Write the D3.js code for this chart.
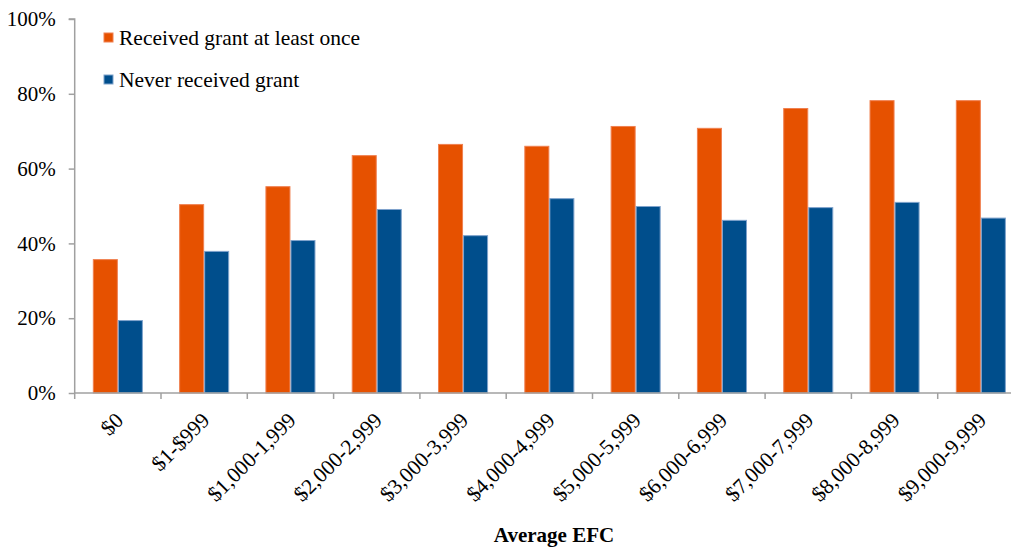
<!DOCTYPE html>
<html><head><meta charset="utf-8">
<script src="https://cdn.jsdelivr.net/npm/d3@7"></script>
<style>body{margin:0;background:#fff;} svg text{font-family:"Liberation Serif","Times New Roman","DejaVu Serif",serif !important;}</style>
</head><body>
<svg id="chart" width="1011" height="548"></svg>
<script>
const categories = ["$0","$1-$999","$1,000-1,999","$2,000-2,999","$3,000-3,999","$4,000-4,999","$5,000-5,999","$6,000-6,999","$7,000-7,999","$8,000-8,999","$9,000-9,999"];
const seriesNames = ["Received grant at least once","Never received grant"];
const received = [35.8,50.5,55.3,63.6,66.6,66.1,71.4,70.9,76.2,78.3,78.3];
const never = [19.5,38.0,40.9,49.2,42.2,52.1,50.0,46.3,49.7,51.1,46.9];
const yTicks = [0,20,40,60,80,100];
const colors = ["#E65100","#004E8C"];
const strokes = ["#F08050","#7FA3CC"];

const svg = d3.select("#chart");
const x0 = 74.7, xEnd = 74.7 + 86.3*11, yTop = 19, yBot = 393;
const x = d3.scaleBand().domain(categories).range([x0, xEnd]).paddingInner(0.42).paddingOuter(0.21);
const xs = d3.scaleBand().domain(seriesNames).range([0, x.bandwidth()]);
const xOuter = d3.scaleBand().domain(categories).range([x0, xEnd]);
const y = d3.scaleLinear().domain([0,100]).range([yBot, yTop]);

// bars
const series = [received, never];
series.forEach((vals, si) => {
  svg.append("g").selectAll("rect").data(vals).join("rect")
    .attr("x", (d,i) => x(categories[i]) + xs(seriesNames[si]) + 0.5)
    .attr("y", d => y(d) + 0.5)
    .attr("width", xs.bandwidth() - 1)
    .attr("height", d => yBot - y(d) - 0.5)
    .attr("fill", colors[si])
    .attr("stroke", strokes[si])
    .attr("stroke-width", 1);
});

// y axis
const yAxis = d3.axisLeft(y).tickValues(yTicks).tickFormat(d => d + "%").tickSize(6).tickPadding(13);
const gy = svg.append("g").attr("transform", `translate(${x0},0)`).call(yAxis).attr("font-family", null);
gy.select(".domain").attr("stroke", "#A0A0A0").attr("stroke-width", 1.5).attr("d", `M-6,${yTop}H0V${yBot}`);
gy.selectAll(".tick line").attr("stroke", "#A0A0A0").attr("stroke-width", 1.5);
gy.selectAll(".tick text").attr("font-size", 21).attr("fill", "#000");

// x axis
const gx = svg.append("g").attr("transform", `translate(0,${yBot})`);
gx.append("line").attr("x1", x0).attr("x2", xEnd).attr("y1", 0).attr("y2", 0).attr("stroke", "#A0A0A0").attr("stroke-width", 1.5);
gx.selectAll("line.tk").data(d3.range(categories.length + 1)).join("line").attr("class","tk")
  .attr("x1", i => x0 + i*xOuter.step()).attr("x2", i => x0 + i*xOuter.step())
  .attr("y1", 0).attr("y2", 6).attr("stroke", "#A0A0A0").attr("stroke-width", 1.5);
gx.selectAll("text").data(categories).join("text")
  .attr("transform", d => `translate(${xOuter(d) + xOuter.bandwidth()/2 - 4},${18}) rotate(-45)`)
  .attr("text-anchor", "end").attr("dy", "0.7em")
  .attr("font-size", 21.5).attr("fill", "#000").text(d => d);

// x title
svg.append("text").attr("x", 554).attr("y", 542).attr("text-anchor", "middle")
  .attr("font-size", 21).attr("font-weight", "bold").text("Average EFC");

// legend
const lg = svg.append("g");
seriesNames.forEach((n, i) => {
  const ly = 38 + i*42;
  lg.append("rect").attr("x", 104).attr("y", ly - 5).attr("width", 9).attr("height", 9)
    .attr("fill", colors[i]).attr("stroke", strokes[i]).attr("stroke-width", 1);
  lg.append("text").attr("x", 119).attr("y", ly + 7).attr("font-size", 21.5).text(n);
});
</script>
</body></html>
